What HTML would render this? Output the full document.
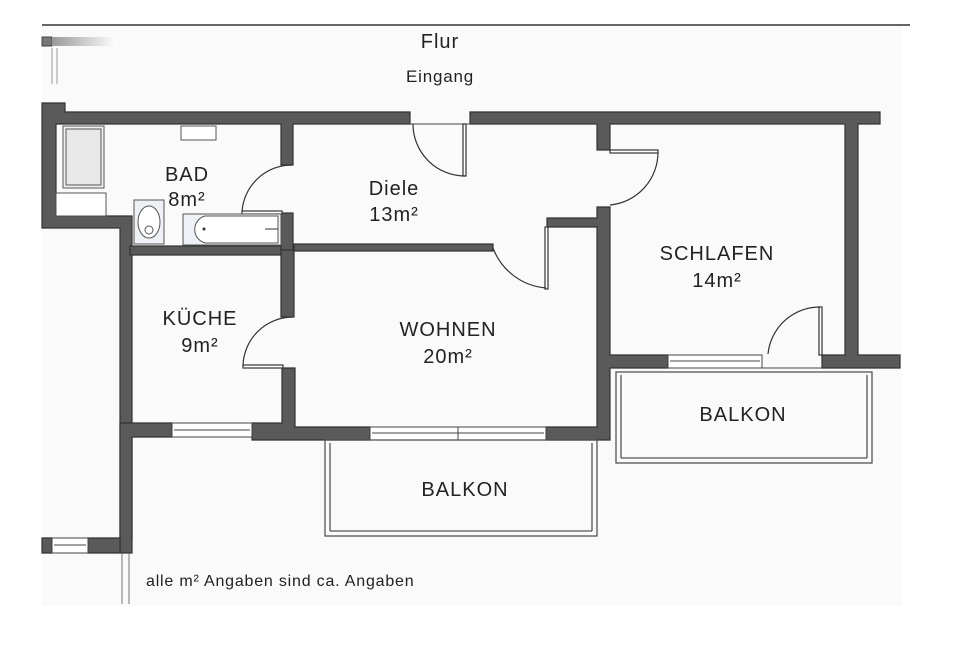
<!DOCTYPE html>
<html><head><meta charset="utf-8"><style>
html,body{margin:0;padding:0;background:#fff;}
svg{display:block;}
text{font-family:"Liberation Sans","DejaVu Sans",sans-serif;fill:#222;text-anchor:middle;}
.l{font-size:20px;letter-spacing:1px;}
</style></head><body>
<svg width="960" height="656" viewBox="0 0 960 656" xmlns="http://www.w3.org/2000/svg">
<rect x="42" y="26" width="860" height="580" fill="#fafafa"/>
<line x1="42" y1="25" x2="910" y2="25" stroke="#333" stroke-width="1.5"/>
<defs><linearGradient id="g" x1="0" x2="1"><stop offset="0" stop-color="#999"/><stop offset="1" stop-color="#fff"/></linearGradient></defs>
<rect x="42" y="37" width="10" height="9" fill="#777" stroke="#444"/>
<rect x="52" y="37" width="65" height="9" fill="url(#g)"/>
<line x1="52" y1="48" x2="52" y2="84" stroke="#999"/><line x1="57" y1="48" x2="57" y2="84" stroke="#999"/>
<g fill="#5a5a5a" stroke="#333" stroke-width="1.2">
<polygon points="42,103 65,103 65,112 410,112 410,124 293,124 293,165 281,165 281,124 56,124 56,216 132,216 132,538 120,538 120,228 42,228"/>
<rect x="130" y="246" width="163" height="9"/>
<rect x="281" y="213" width="12" height="42"/>
<rect x="281" y="250" width="13" height="67"/>
<rect x="294" y="244" width="199" height="7"/>
<polygon points="282,368 295,368 295,427 370,427 370,440 252,440 252,423 282,423"/>
<polygon points="120,423 172,423 172,437 132,437 132,553 120,553"/>
<polygon points="42,538 52,538 52,553 42,553"/>
<polygon points="88,538 120,538 120,553 88,553"/>
<polygon points="470,112 880,112 880,124 858,124 858,355 900,355 900,368 822,368 822,355 845,355 845,124 610,124 610,150 597,150 597,124 470,124"/>
<polygon points="597,207 610,207 610,355 668,355 668,368 610,368 610,440 546,440 546,427 597,427 597,227 547,227 547,218 597,218"/>
</g>
<g fill="#fff" stroke="#444" stroke-width="1">
<rect x="172" y="423" width="80" height="14"/><line x1="174" y1="430" x2="250" y2="430"/>
<rect x="52" y="538" width="36" height="15"/><line x1="54" y1="545" x2="86" y2="545"/>
<rect x="370" y="427" width="176" height="13"/><line x1="458" y1="427" x2="458" y2="440"/><line x1="372" y1="433" x2="544" y2="433"/>
<rect x="668" y="355" width="94" height="13"/><line x1="670" y1="361" x2="760" y2="361"/>
<line x1="762" y1="368" x2="822" y2="368"/>
<line x1="410" y1="124" x2="470" y2="124"/>
</g>
<g fill="none" stroke="#333" stroke-width="1.2">
<rect x="463" y="124" width="3" height="52" fill="#fff"/>
<path d="M413,124 A52,52 0 0 0 465,176"/>
<rect x="242" y="211" width="40" height="3" fill="#fff"/>
<path d="M242,212 A50,50 0 0 1 292,165"/>
<rect x="243" y="365" width="40" height="3" fill="#fff"/>
<path d="M243,366 A50,50 0 0 1 293,317"/>
<rect x="545" y="227" width="3" height="62" fill="#fff"/>
<path d="M493,248 A62,62 0 0 0 546,288"/>
<rect x="610" y="150" width="48" height="3" fill="#fff"/>
<path d="M658,152 A53,53 0 0 1 610,205"/>
<rect x="819" y="307" width="3" height="48" fill="#fff"/>
<path d="M768,354 A52,52 0 0 1 820,307"/>
</g>
<g fill="#eef1f5" stroke="#555" stroke-width="1">
<rect x="63" y="126" width="41" height="62"/><rect x="66" y="129" width="35" height="56" fill="#e8e8e8"/>
<rect x="56" y="193" width="50" height="23" fill="#fff"/>
<rect x="181" y="126" width="35" height="14" fill="#fff"/>
<rect x="134" y="200" width="30" height="44"/>
<ellipse cx="149" cy="222" rx="11" ry="16" fill="#fff"/>
<circle cx="149" cy="230" r="4" fill="#fff"/>
<rect x="183" y="214" width="98" height="31"/>
<path d="M205,216 L278,216 L278,243 L205,243 A14,14 0 0 1 205,216 Z" fill="#fff"/>
</g>
<circle cx="204" cy="229" r="1.5" fill="#333"/><line x1="265" y1="229" x2="278" y2="229" stroke="#333"/>
<g fill="none" stroke="#555" stroke-width="1.3">
<rect x="325" y="440" width="272" height="96"/><line x1="330" y1="443" x2="330" y2="531"/><line x1="592" y1="443" x2="592" y2="531"/><line x1="330" y1="531" x2="592" y2="531"/>
<rect x="616" y="372" width="256" height="91"/><line x1="621" y1="375" x2="621" y2="458"/><line x1="867" y1="375" x2="867" y2="458"/><line x1="621" y1="458" x2="867" y2="458"/>
</g>
<line x1="129" y1="553" x2="129" y2="604" stroke="#777"/><line x1="122" y1="553" x2="122" y2="604" stroke="#777"/>
<g>
<text x="440" y="48" font-size="20" letter-spacing="1">Flur</text>
<text x="440" y="82" font-size="17" letter-spacing="0.8">Eingang</text>
<text class="l" x="187" y="181">BAD</text>
<text class="l" x="187" y="206">8m²</text>
<text class="l" x="394" y="195">Diele</text>
<text class="l" x="394" y="221">13m²</text>
<text class="l" x="717" y="260">SCHLAFEN</text>
<text class="l" x="717" y="287">14m²</text>
<text class="l" x="200" y="325">KÜCHE</text>
<text class="l" x="200" y="352">9m²</text>
<text class="l" x="448" y="336">WOHNEN</text>
<text class="l" x="448" y="363">20m²</text>
<text class="l" x="743" y="421">BALKON</text>
<text class="l" x="465" y="496">BALKON</text>
<text x="146" y="586" font-size="16" letter-spacing="0.8" style="text-anchor:start">alle m² Angaben sind ca. Angaben</text>
</g>
</svg>
</body></html>
